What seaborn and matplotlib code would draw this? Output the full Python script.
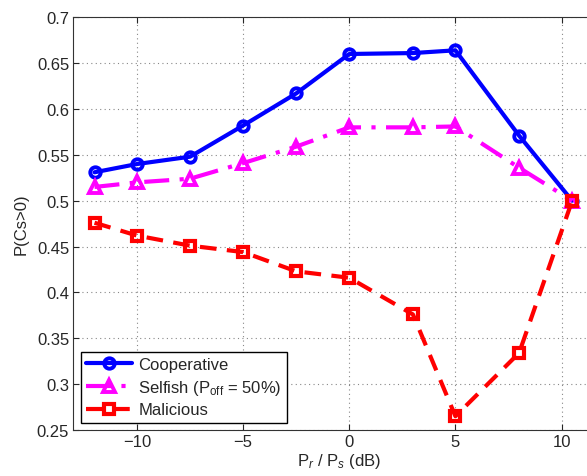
import numpy as np
import pandas as pd
import matplotlib
matplotlib.use("Agg")
import matplotlib.pyplot as plt
import seaborn as sns

# values
snr_db = [-12, -10, -7.5, -5, -2.5, 0, 3, 5, 8, 10.5]
cooperative = [0.531, 0.540, 0.548, 0.582, 0.617, 0.660, 0.661, 0.664, 0.571, 0.500]
selfish = [0.515, 0.520, 0.524, 0.541, 0.559, 0.580, 0.580, 0.581, 0.536, 0.500]
malicious = [0.476, 0.462, 0.451, 0.444, 0.423, 0.416, 0.376, 0.265, 0.334, 0.500]

x_ticks = [-10, -5, 0, 5, 10]
y_ticks = [0.25, 0.3, 0.35, 0.4, 0.45, 0.5, 0.55, 0.6, 0.65, 0.7]

sns.set_style("ticks")
plt.rcParams['font.family'] = ['Liberation Sans', 'DejaVu Sans']
plt.rcParams['mathtext.fontset'] = 'custom'
plt.rcParams['mathtext.rm'] = 'Liberation Sans'
plt.rcParams['mathtext.it'] = 'Liberation Sans:italic'
plt.rcParams['xtick.direction'] = 'in'
plt.rcParams['ytick.direction'] = 'in'

fig = plt.figure(figsize=(5.87, 4.77), dpi=100)
ax = fig.add_axes([73.3 / 587, 46 / 477, (604 - 73.3) / 587, (431 - 18.3) / 477])

sns.lineplot(x=snr_db, y=cooperative, ax=ax, color="#0000ff", lw=3, linestyle="-",
             marker="o", markersize=7.5, mfc="none", mew=2.8, mec="#0000ff",
             label="Cooperative")
sns.lineplot(x=snr_db, y=selfish, ax=ax, color="#ff00ff", lw=3, linestyle=(0, (6, 2.5, 1, 2.5)),
             marker="^", markersize=9, mfc="none", mew=2.8, mec="#ff00ff",
             label=r"Selfish (P$_{\mathrm{off}}$ = 50%)")
sns.lineplot(x=snr_db, y=malicious, ax=ax, color="#ff0000", lw=3, linestyle=(0, (4, 2.5)),
             marker="s", markersize=6.5, mfc="none", mew=3, mec="#ff0000",
             label="Malicious")

ax.set_xlim(-13, 12)
ax.set_ylim(0.25, 0.7)
ax.set_xticks(x_ticks)
ax.set_xticklabels([f"{t}".replace("-", "\u2212") for t in x_ticks])
ax.set_yticks(y_ticks)
ax.set_yticklabels([f"{t:g}" for t in y_ticks])
ax.tick_params(labelsize=12, length=4, width=0.8, top=True, right=True, pad=3)
ax.grid(True, linestyle=(0, (1, 3)), color="#888888", linewidth=0.8)
for s in ax.spines.values():
    s.set_linewidth(0.8)
    s.set_color("#333333")

ax.set_xlabel(r"P$_r$ / P$_s$ (dB)", fontsize=12, labelpad=1)
ax.set_ylabel("P(Cs>0)", fontsize=12, labelpad=6)

leg = ax.legend(loc="lower left", fontsize=12, frameon=True, fancybox=False,
                edgecolor="black", framealpha=1, borderaxespad=0.45,
                handlelength=2.8, labelspacing=0.35, borderpad=0.3, handletextpad=0.35)
leg.get_frame().set_linewidth(1.0)

fig.savefig("out.png", dpi=100)
